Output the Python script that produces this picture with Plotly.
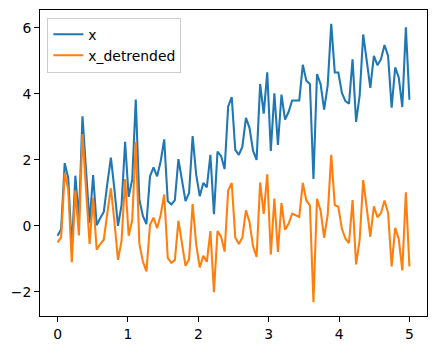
import numpy as np
import plotly.graph_objects as go

# sample positions (100 evenly spaced samples from 0 to 5)
t = np.linspace(0, 5, 100)

x_values = [
    -0.30, -0.10, 1.90, 1.45, -0.70, 1.52, 0.20, 3.32, 1.70, 0.09,
    1.54, 0.02, 0.24, 0.42, 1.28, 2.07, 1.10, 0.00, 0.63, 2.55,
    0.88, 1.40, 3.83, 0.80, 0.30, 0.05, 1.50, 1.77, 1.50, 1.95,
    2.62, 0.75, 0.65, 0.78, 2.02, 1.35, 0.75, 1.00, 2.72, 1.55,
    0.90, 1.30, 1.17, 2.15, 0.35, 2.25, 2.12, 1.72, 3.62, 3.90,
    2.30, 2.15, 2.40, 3.27, 2.97, 2.28, 2.00, 4.30, 3.40, 4.65,
    2.27, 4.02, 2.45, 3.98, 3.22, 3.45, 3.80, 3.80, 3.80, 4.88,
    4.40, 4.30, 1.42, 4.60, 4.30, 3.52, 4.25, 6.12, 4.65, 4.65,
    4.03, 3.78, 3.70, 5.05, 3.15, 3.95, 5.80, 5.00, 4.18, 5.15,
    4.87, 5.05, 5.48, 5.15, 3.58, 4.80, 4.50, 3.60, 6.02, 3.82,
]

x_detrended_values = [
    -0.50, -0.35, 1.60, 1.10, -1.10, 1.08, -0.29, 2.78, 1.11, -0.55,
    0.85, -0.72, -0.55, -0.42, 0.39, 1.14, 0.12, -1.03, -0.45, 1.42,
    -0.30, 0.17, 2.55, -0.53, -1.08, -1.38, 0.03, 0.25, -0.07, 0.33,
    0.95, -0.97, -1.12, -1.04, 0.15, -0.57, -1.21, -1.01, 0.66, -0.56,
    -1.26, -0.91, -1.09, -0.16, -2.01, -0.16, -0.33, -0.78, 1.07, 1.30,
    -0.35, -0.55, -0.35, 0.47, 0.12, -0.62, -0.94, 1.31, 0.36, 1.56,
    -0.87, 0.83, -0.79, 0.69, -0.12, 0.06, 0.37, 0.32, 0.27, 1.30,
    0.77, 0.62, -2.31, 0.82, 0.47, -0.36, 0.33, 2.15, 0.63, 0.58,
    -0.09, -0.39, -0.52, 0.78, -1.17, -0.42, 1.39, 0.54, -0.33, 0.59,
    0.26, 0.39, 0.77, 0.39, -1.23, -0.06, -0.40, -1.35, 1.02, -1.23,
]

series_names = ["x", "x_detrended"]
x_ticks = [0, 1, 2, 3, 4, 5]
y_ticks = [-2, 0, 2, 4, 6]

colors = ["#1f77b4", "#ff7f0e"]
FONT = "DejaVu Sans"
FS = 13.9

fig = go.Figure()
for name, vals, col in zip(series_names, [x_values, x_detrended_values], colors):
    fig.add_trace(go.Scatter(x=t, y=vals, mode="lines", name=name,
                             line=dict(color=col, width=2.08)))

# matplotlib-style 5% margins
allv = np.array(x_values + x_detrended_values)
ymin, ymax = allv.min(), allv.max()
ypad = 0.05 * (ymax - ymin)
xpad = 0.05 * (t.max() - t.min())

axis_common = dict(showline=True, linecolor="black", linewidth=1.1, mirror=True,
                   ticks="outside", ticklen=4.9, tickwidth=1.1, tickcolor="black",
                   showgrid=False, zeroline=False,
                   tickfont=dict(family=FONT, size=FS, color="black"))

fig.update_layout(
    width=437, height=351,
    margin=dict(l=40, r=9, t=9, b=34),
    paper_bgcolor="white", plot_bgcolor="white",
    font=dict(family=FONT, size=FS, color="black"),
    xaxis=dict(range=[t.min() - xpad, t.max() + xpad], tickvals=x_ticks, **axis_common),
    yaxis=dict(range=[ymin - ypad, ymax + ypad], tickvals=y_ticks, **axis_common),
    legend=dict(x=0.019, y=0.975, xanchor="left", yanchor="top",
                bgcolor="rgba(255,255,255,0.8)", bordercolor="#cccccc", borderwidth=1,
                font=dict(family=FONT, size=FS, color="black"),
                tracegroupgap=0, itemwidth=30),
    showlegend=True,
)

fig.write_html("out.html")
